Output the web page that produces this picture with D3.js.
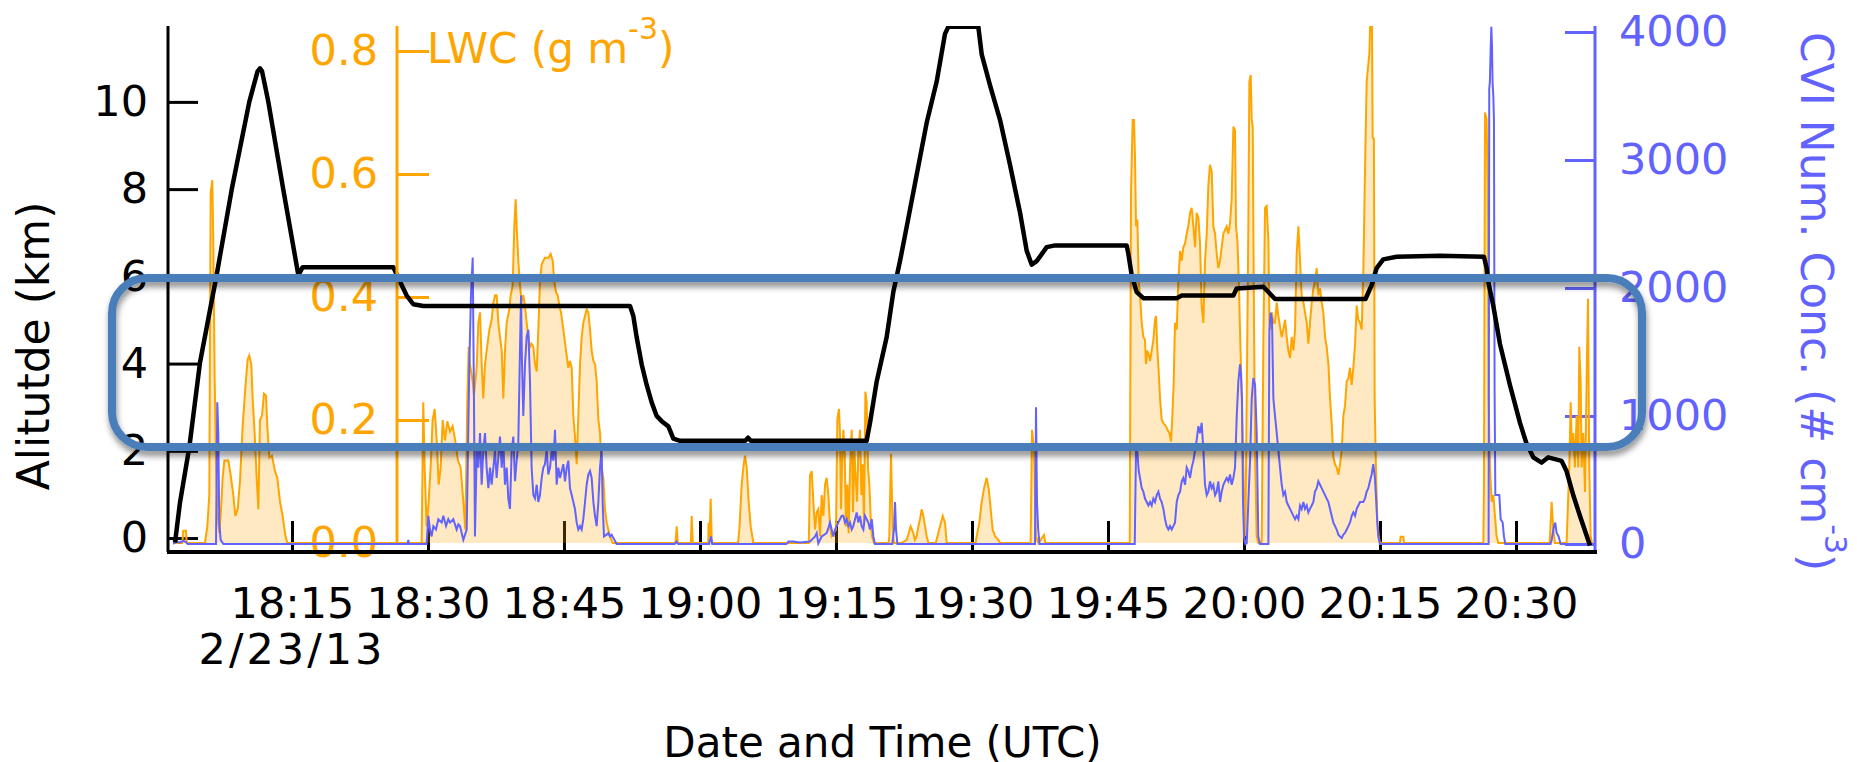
<!DOCTYPE html>
<html lang="en">
<head>
<meta charset="utf-8">
<title>Altitude, LWC and CVI number concentration</title>
<script src="https://cdn.jsdelivr.net/npm/d3@7"></script>
<style>
  body { margin: 0; background: #fff; }
  svg { display: block; font-family: "DejaVu Sans", sans-serif; }
</style>
</head>
<body>
<script>
// times are minutes after 18:00 UTC, 2/23/13

// aircraft altitude (km)
var altitude = [[2.1,-0.1],[2.65,0.82],[3.68,2.09],[4.85,4.02],[6.69,6.03],[8.35,7.99],[10.29,10.0],[11.2,10.7],[11.47,10.77],[11.7,10.7],[12.39,10.0],[14.04,7.99],[15.7,6.03],[16.18,6.21],[26.18,6.21],[26.91,5.88],[27.65,5.56],[28.38,5.36],[29.48,5.32],[52.28,5.32],[52.65,5.09],[53.01,4.61],[53.57,3.98],[54.12,3.51],[54.67,3.11],[55.22,2.80],[55.77,2.68],[56.51,2.56],[57.06,2.28],[57.8,2.23],[65.0,2.23],[65.3,2.30],[65.6,2.23],[78.38,2.23],[78.75,2.64],[79.49,3.59],[80.59,4.61],[81.32,5.64],[82.06,6.35],[82.8,7.14],[83.9,8.33],[85.0,9.52],[86.1,10.46],[87.02,11.56],[87.39,11.72],[90.7,11.72],[91.07,11.09],[91.99,10.38],[93.09,9.59],[94.19,8.56],[95.3,7.46],[96.03,6.59],[96.58,6.27],[97.13,6.35],[97.69,6.51],[98.24,6.67],[99.16,6.71],[107.06,6.71],[107.25,6.51],[107.61,6.03],[108.17,5.64],[108.9,5.50],[112.58,5.50],[113.13,5.56],[118.83,5.56],[119.19,5.72],[122.14,5.76],[122.69,5.64],[123.42,5.48],[133.4,5.48],[134.08,5.80],[134.63,6.19],[135.36,6.39],[136.83,6.45],[141.6,6.47],[146.47,6.45],[146.76,6.19],[146.94,5.88],[147.5,5.32],[148.23,4.45],[149.33,3.51],[150.44,2.64],[151.17,2.16],[151.91,1.85],[152.83,1.73],[153.56,1.85],[155.03,1.77],[155.58,1.53],[156.32,0.98],[157.05,0.51],[158.16,-0.17]];

// liquid water content (g m-3)
var lwc = [[1.9,0],[2.9,0],[3.0,0.02],[3.3,0.02],[3.4,0],[5.4,0],[5.66,0.027],[5.88,0.078],[6.03,0.57],[6.21,0.59],[6.32,0.487],[6.47,0.268],[6.62,0.134],[6.76,0.055],[6.98,0.016],[7.17,0.055],[7.35,0.106],[7.54,0.134],[7.98,0.134],[8.23,0.111],[8.53,0.078],[8.75,0.044],[9.01,0.055],[9.26,0.10],[9.56,0.19],[9.82,0.246],[10.11,0.299],[10.29,0.305],[10.51,0.29],[10.66,0.235],[10.88,0.179],[11.1,0.106],[11.29,0.055],[11.47,0.20],[11.69,0.207],[11.91,0.243],[12.13,0.24],[12.28,0.19],[12.5,0.139],[12.79,0.142],[13.12,0.117],[13.38,0.106],[13.68,0.067],[13.97,0.044],[14.26,0.013],[14.48,0],
[29.3,0],[29.48,0.229],[29.63,0.123],[29.85,0.027],[30.07,0.067],[30.29,0.123],[30.51,0.20],[30.74,0.218],[30.96,0.167],[31.18,0.095],[31.4,0.123],[31.62,0.20],[31.87,0.167],[32.13,0.198],[32.43,0.181],[32.72,0.19],[33.0,0.167],[33.3,0.134],[33.6,0.123],[33.9,0.067],[34.12,0.022],[34.34,0.235],[34.49,0.319],[34.63,0.291],[34.93,0.263],[35.07,0.24],[35.37,0.285],[35.55,0.358],[35.74,0.375],[35.92,0.291],[36.1,0.235],[36.29,0.291],[36.47,0.313],[36.77,0.347],[37.02,0.363],[37.21,0.391],[37.39,0.403],[37.57,0.403],[37.76,0.358],[37.94,0.335],[38.13,0.313],[38.31,0.235],[38.49,0.313],[38.68,0.358],[38.97,0.38],[39.12,0.403],[39.34,0.419],[39.52,0.515],[39.67,0.559],[39.78,0.515],[39.96,0.459],[40.15,0.419],[40.33,0.391],[40.51,0.403],[40.7,0.386],[40.88,0.358],[41.07,0.335],[41.25,0.319],[41.43,0.324],[41.62,0.319],[41.8,0.291],[41.99,0.279],[42.17,0.347],[42.35,0.425],[42.54,0.453],[42.72,0.459],[42.9,0.464],[43.27,0.464],[43.53,0.47],[43.75,0.459],[43.93,0.425],[44.12,0.408],[44.3,0.403],[44.49,0.386],[44.67,0.375],[44.93,0.347],[45.22,0.313],[45.48,0.285],[45.66,0.296],[45.85,0.285],[46.03,0.207],[46.21,0.173],[46.4,0.128],[46.58,0.207],[46.77,0.291],[46.95,0.335],[47.13,0.358],[47.32,0.369],[47.5,0.38],[47.68,0.375],[47.87,0.347],[48.05,0.313],[48.24,0.296],[48.42,0.291],[48.6,0.263],[48.79,0.201],[48.97,0.179],[49.15,0.123],[49.34,0.106],[49.52,0.055],[49.71,0.033],[50.07,0.011],[50.37,0],
[57.3,0],[57.43,0.027],[57.55,0],[59.0,0],[59.08,0.044],[59.2,0],[60.9,0],[60.95,0.033],[61.05,0.01],[61.18,0.072],[61.3,0],[64.2,0],[64.34,0.022],[64.6,0.095],[64.78,0.123],[64.96,0.142],[65.15,0.123],[65.37,0.067],[65.59,0.027],[65.88,0],
[72.0,0],[72.13,0.11],[72.32,0.117],[72.5,0.067],[72.69,0.022],[72.87,0.05],[73.05,0.055],[73.24,0.011],[73.42,0.078],[73.61,0.044],[73.79,0.095],[73.97,0.106],[74.16,0.078],[74.34,0.027],[74.52,0.011],[75.0,0.022],[75.15,0.201],[75.33,0.218],[75.44,0.179],[75.55,0.055],[75.66,0.123],[75.81,0.184],[75.96,0.145],[76.1,0.027],[76.25,0.095],[76.4,0.016],[76.55,0.123],[76.73,0.184],[76.88,0.05],[77.02,0.151],[77.17,0.106],[77.32,0.067],[77.47,0.151],[77.65,0.184],[77.8,0.078],[77.94,0.128],[78.09,0.033],[78.24,0.246],[78.38,0.229],[78.53,0.123],[78.68,0.095],[78.83,0.039],[78.97,0.011],[79.19,0],
[80.8,0],[80.88,0.011],[81.07,0.145],[81.25,0.022],[81.4,0],
[82.2,0],[82.8,0.005],[83.24,0.027],[83.53,0.016],[83.7,0.005],[83.9,0.011],[84.08,0.027],[84.27,0.039],[84.45,0.055],[84.63,0.044],[84.82,0.027],[85.0,0.011],[85.2,0],
[86.0,0],[86.47,0.027],[86.77,0.044],[87.02,0.033],[87.21,0],
[90.4,0],[90.52,0.011],[90.81,0.033],[91.07,0.067],[91.33,0.089],[91.62,0.106],[91.84,0.089],[92.06,0.055],[92.28,0.022],[92.54,0.011],[92.91,0.005],[93.09,0],
[96.47,0],[96.62,0.184],[96.84,0.151],[97.06,0.011],[97.32,0],[97.94,0.013],[98.09,0],
[107.4,0],[107.54,0.571],[107.72,0.688],[107.87,0.688],[107.98,0.627],[108.09,0.515],[108.24,0.526],[108.39,0.425],[108.53,0.403],[108.72,0.358],[108.9,0.335],[109.08,0.33],[109.19,0.291],[109.34,0.313],[109.49,0.307],[109.64,0.296],[109.82,0.313],[110.0,0.33],[110.19,0.363],[110.3,0.369],[110.45,0.313],[110.59,0.279],[110.74,0.235],[110.92,0.201],[111.11,0.195],[111.4,0.19],[111.55,0.184],[111.77,0.179],[111.95,0.165],[112.1,0.207],[112.25,0.263],[112.39,0.358],[112.58,0.347],[112.76,0.425],[112.95,0.475],[113.13,0.459],[113.31,0.481],[113.5,0.487],[113.68,0.503],[113.86,0.515],[114.05,0.537],[114.23,0.545],[114.42,0.515],[114.6,0.481],[114.78,0.537],[114.97,0.529],[115.15,0.487],[115.33,0.386],[115.52,0.358],[115.7,0.459],[115.89,0.503],[116.07,0.582],[116.25,0.615],[116.44,0.604],[116.62,0.515],[116.81,0.503],[116.99,0.47],[117.17,0.447],[117.36,0.459],[117.54,0.481],[117.72,0.503],[117.91,0.509],[118.09,0.515],[118.28,0.503],[118.46,0.52],[118.64,0.559],[118.83,0.677],[119.01,0.671],[119.12,0.515],[119.27,0.492],[119.42,0.431],[119.56,0.347],[119.75,0.235],[119.93,0.123],[120.04,0.033],[120.15,0.011],[120.3,0.235],[120.48,0.515],[120.59,0.75],[120.74,0.761],[120.85,0.688],[120.96,0.677],[121.11,0.347],[121.25,0.123],[121.4,0.011],[121.58,0],[121.95,0],[122.14,0.33],[122.32,0.545],[122.5,0.548],[122.69,0.492],[122.8,0.358],[122.94,0.347],[123.09,0.375],[123.24,0.358],[123.42,0.358],[123.61,0.391],[123.79,0.369],[123.97,0.352],[124.16,0.335],[124.34,0.347],[124.53,0.363],[124.71,0.335],[124.89,0.313],[125.08,0.301],[125.26,0.335],[125.45,0.313],[125.63,0.347],[125.81,0.47],[126.0,0.515],[126.18,0.459],[126.36,0.403],[126.55,0.391],[126.73,0.375],[126.92,0.358],[127.1,0.324],[127.28,0.358],[127.47,0.391],[127.65,0.414],[127.83,0.425],[128.02,0.447],[128.2,0.403],[128.39,0.414],[128.57,0.391],[128.75,0.375],[128.94,0.335],[129.12,0.319],[129.31,0.291],[129.49,0.235],[129.67,0.195],[129.86,0.139],[130.04,0.128],[130.22,0.123],[130.41,0.111],[130.59,0.128],[130.78,0.151],[130.96,0.207],[131.14,0.223],[131.33,0.263],[131.51,0.268],[131.69,0.285],[131.88,0.257],[132.06,0.285],[132.25,0.324],[132.43,0.386],[132.61,0.363],[132.8,0.358],[132.98,0.347],[133.17,0.447],[133.35,0.61],[133.53,0.75],[133.82,0.795],[133.93,0.85],[134.11,0.85],[134.19,0.66],[134.33,0.657],[134.41,0.235],[134.55,0.123],[134.7,0.039],[134.85,0.011],[134.99,0],
[137.2,0],[137.27,0.01],[137.57,0.01],[137.65,0],
[146.4,0],[146.47,0.1],[146.58,0.70],[146.76,0.689],[146.87,0.582],[146.98,0.235],[147.13,0.123],[147.31,0.067],[147.5,0.078],[147.68,0.044],[147.86,0.011],[148.05,0],
[153.7,0],[153.75,0.011],[153.93,0.067],[154.11,0.022],[154.3,0],
[155.58,0],[155.88,0.123],[156.03,0.229],[156.17,0.151],[156.32,0.179],[156.5,0.123],[156.69,0.207],[156.87,0.123],[156.98,0.319],[157.13,0.263],[157.24,0.123],[157.42,0.179],[157.61,0.083],[157.79,0.268],[157.94,0.397],[158.08,0.123],[158.23,0.011],[158.38,0]];

// CVI number concentration (# cm-3)
var cvi = [[1.9,0],[2.3,20],[2.6,10],[3.0,25],[3.3,15],[3.5,0],[6.62,0],[6.76,1108],[6.87,866],[6.98,167],[7.13,32],[7.43,0],[27.75,0],[27.83,32],[27.9,0],
[29.85,0],[30.04,220],[30.22,113],[30.4,59],[30.59,140],[30.88,113],[31.14,194],[31.51,167],[31.69,220],[31.99,140],[32.24,194],[32.43,167],[32.79,194],[33.16,113],[33.35,153],[33.53,140],[33.9,32],[34.27,113],[34.56,1404],[34.74,1942],[34.93,2238],[35.07,1135],[35.18,59],[35.37,732],[35.55,597],[35.74,866],[35.92,463],[36.1,732],[36.29,866],[36.47,597],[36.66,436],[36.84,597],[37.02,463],[37.21,597],[37.39,732],[37.57,516],[37.76,678],[37.94,839],[38.13,597],[38.31,785],[38.49,463],[38.68,597],[38.86,355],[39.04,274],[39.23,732],[39.41,839],[39.6,490],[39.78,651],[39.96,785],[40.15,1539],[40.26,1942],[40.37,1404],[40.51,1001],[40.7,1404],[40.88,1619],[41.07,1673],[41.25,1270],[41.43,597],[41.62,382],[41.8,355],[41.99,463],[42.17,328],[42.35,382],[42.54,516],[42.72,597],[42.9,624],[43.09,732],[43.27,543],[43.46,597],[43.64,732],[43.83,651],[44.01,893],[44.19,463],[44.38,597],[44.56,516],[44.74,570],[44.93,624],[45.11,490],[45.3,597],[45.48,651],[45.66,436],[45.85,382],[46.03,328],[46.21,274],[46.4,167],[46.58,113],[46.77,140],[46.95,113],[47.13,194],[47.32,328],[47.5,463],[47.68,543],[47.87,570],[48.05,516],[48.24,328],[48.42,220],[48.6,140],[48.79,328],[48.97,597],[49.15,732],[49.26,328],[49.41,59],[49.71,73],[49.89,86],[50.07,59],[50.26,73],[50.44,46],[50.81,0],
[57.2,0],[57.4,19],[57.6,0],[61.0,0],[61.2,59],[61.35,0],
[69.5,0],[69.63,5],[69.74,19],[70.3,19],[71.03,11],[72.13,19],[72.69,59],[72.87,86],[73.05,5],[73.42,59],[73.97,86],[74.16,126],[74.34,167],[74.52,113],[74.71,59],[74.89,113],[75.08,140],[75.44,194],[75.63,220],[75.81,220],[75.99,167],[76.18,194],[76.36,140],[76.55,167],[76.73,113],[76.91,140],[77.1,194],[77.28,247],[77.47,167],[77.65,220],[77.83,140],[78.02,113],[78.2,220],[78.38,194],[78.57,167],[78.75,113],[78.94,194],[79.12,59],[79.3,0],
[81.2,0],[81.4,113],[81.51,328],[81.62,113],[81.77,0],
[96.95,0],[97.06,1068],[97.17,328],[97.3,113],[97.45,0],
[107.95,0],[108.09,732],[108.24,718],[108.39,570],[108.53,516],[108.72,436],[108.9,409],[109.08,355],[109.27,328],[109.45,301],[109.64,328],[109.82,301],[110.0,355],[110.19,328],[110.37,382],[110.56,409],[110.74,355],[110.92,328],[111.11,274],[111.29,194],[111.47,140],[111.66,113],[111.84,140],[112.03,113],[112.21,140],[112.39,167],[112.58,328],[112.76,382],[112.95,409],[113.13,490],[113.31,516],[113.5,463],[113.68,597],[113.86,570],[114.05,516],[114.23,597],[114.42,651],[114.6,732],[114.78,812],[114.97,920],[115.15,866],[115.33,947],[115.52,732],[115.7,463],[115.89,382],[116.07,409],[116.25,490],[116.44,436],[116.62,463],[116.81,382],[116.99,409],[117.17,490],[117.36,328],[117.54,409],[117.72,463],[117.91,490],[118.09,516],[118.28,490],[118.46,543],[118.64,463],[118.83,516],[119.01,597],[119.2,1001],[119.38,1270],[119.56,1404],[119.67,1323],[119.78,1135],[119.89,328],[120.0,59],[120.15,0],[120.3,5],[120.48,328],[120.67,651],[120.85,1135],[121.03,1297],[121.22,1243],[121.4,866],[121.58,59],[121.77,0],[122.69,0],[122.8,1673],[122.94,1808],[123.09,1754],[123.24,1135],[123.42,1001],[123.61,866],[123.79,732],[123.97,597],[124.16,463],[124.34,382],[124.53,409],[124.71,328],[124.89,301],[125.08,274],[125.26,247],[125.45,220],[125.63,194],[125.81,220],[126.0,194],[126.18,301],[126.36,274],[126.55,328],[126.73,274],[126.92,301],[127.1,247],[127.28,274],[127.47,301],[127.65,328],[127.83,409],[128.02,436],[128.2,490],[128.39,463],[128.57,436],[128.75,409],[128.94,382],[129.12,355],[129.31,328],[129.49,274],[129.67,220],[129.86,167],[130.04,140],[130.22,113],[130.41,73],[130.59,59],[130.78,46],[130.96,73],[131.14,86],[131.33,113],[131.51,140],[131.69,167],[131.88,220],[132.06,247],[132.25,220],[132.43,274],[132.61,301],[132.8,328],[133.16,328],[133.34,355],[133.53,409],[133.71,436],[133.89,490],[134.08,543],[134.26,624],[134.44,516],[134.55,382],[134.7,167],[134.81,59],[134.99,0],
[146.98,0],[147.05,3556],[147.12,3610],[147.2,3852],[147.28,4040],[147.35,3900],[147.42,3600],[147.5,3500],[147.57,3300],[147.64,1200],[147.72,382],[147.94,382],[148.16,382],[148.31,194],[148.53,167],[148.67,59],[148.82,0],
[153.8,0],[153.93,32],[154.19,140],[154.33,167],[154.48,86],[154.7,59],[154.92,0],[158.5,0]];

var altTicks = [0, 2, 4, 6, 8, 10];
var lwcTicks = [0, 0.2, 0.4, 0.6, 0.8];
var cviTicks = [0, 1000, 2000, 3000, 4000];
var timeTicks = [15, 30, 45, 60, 75, 90, 105, 120, 135, 150];
var dateLabel = "2/23/13";

var w = 1857, h = 762;
var plotL = 168, plotR = 1597, plotT = 26, plotB = 552;
var orangeX = 397, blueX = 1595;

var orange = "#ffa500", blue = "#6262ff";

var base = Date.UTC(2013, 1, 23, 18, 0, 0);
function toDate(m) { return new Date(base + m * 60000); }

var xScale = d3.scaleUtc().domain([toDate(1.324), toDate(158.934)]).range([plotL, plotR]);
var yAlt = d3.scaleLinear().domain([-0.32, 11.74]).range([plotB, plotT]);
var yLwc = d3.scaleLinear().domain([-0.0146, 0.8407]).range([plotB, plotT]);
var yCvi = d3.scaleLinear().domain([-62.5, 4047]).range([plotB, plotT]);

var svg = d3.select("body").append("svg")
  .attr("width", w)
  .attr("height", h);

var defs = svg.append("defs");
defs.append("clipPath").attr("id", "plot")
  .append("rect")
  .attr("x", plotL).attr("y", plotT)
  .attr("width", plotR - plotL).attr("height", plotB - plotT);

var f = defs.append("filter").attr("id", "shadow")
  .attr("x", "-5%").attr("y", "-20%").attr("width", "110%").attr("height", "150%");
f.append("feDropShadow")
  .attr("dx", 1).attr("dy", 5).attr("stdDeviation", 3)
  .attr("flood-color", "#000").attr("flood-opacity", 0.45);

//Axis labels drawn first so the data and axis lines sit over them
var fs = 43;

//Altitude axis
var altAxis = svg.append("g")
  .attr("transform", "translate(" + plotL + ",0)")
  .call(d3.axisLeft(yAlt).tickValues(altTicks).tickSize(-30).tickSizeOuter(0).tickPadding(20));

//LWC axis
var lwcAxis = svg.append("g")
  .attr("transform", "translate(" + orangeX + ",0)")
  .call(d3.axisLeft(yLwc).tickValues(lwcTicks).tickFormat(d3.format(".1f"))
    .tickSize(-32).tickSizeOuter(0).tickPadding(19));

//CVI axis
var cviAxis = svg.append("g")
  .attr("transform", "translate(" + blueX + ",0)")
  .call(d3.axisRight(yCvi).tickValues(cviTicks).tickFormat(d3.format("d"))
    .tickSize(-30).tickSizeOuter(0).tickPadding(24));

//Time axis
var timeAxis = svg.append("g")
  .attr("transform", "translate(0," + plotB + ")")
  .call(d3.axisBottom(xScale).tickValues(timeTicks.map(toDate))
    .tickFormat(d3.utcFormat("%H:%M")).tickSize(-31).tickSizeOuter(0).tickPadding(35));

[altAxis, lwcAxis, cviAxis, timeAxis].forEach(function(g) {
  g.selectAll("text").attr("font-size", fs).attr("font-family", "DejaVu Sans, sans-serif");
  g.select(".domain").remove();
});

altAxis.selectAll("text").attr("fill", "#000");
lwcAxis.selectAll("text").attr("fill", orange);
cviAxis.selectAll("text").attr("fill", blue);
timeAxis.selectAll("text").attr("fill", "#000");

altAxis.selectAll(".tick line").attr("stroke", "#000").attr("stroke-width", 3);
lwcAxis.selectAll(".tick line").attr("stroke", orange).attr("stroke-width", 3);
cviAxis.selectAll(".tick line").attr("stroke", blue).attr("stroke-width", 3);
timeAxis.selectAll(".tick line").attr("stroke", "#000").attr("stroke-width", 3);

//Date under the first time tick
svg.append("text")
  .attr("x", xScale(toDate(timeTicks[0])))
  .attr("y", 664)
  .attr("text-anchor", "middle")
  .attr("font-size", fs)
  .attr("letter-spacing", 3)
  .text(dateLabel);

//Data
var plot = svg.append("g").attr("clip-path", "url(#plot)");

var area = d3.area()
  .x(function(d) { return xScale(toDate(d[0])); })
  .y0(yLwc(0))
  .y1(function(d) { return yLwc(d[1]); });

plot.append("path")
  .datum(lwc)
  .attr("fill", "rgba(255,165,0,0.24)")
  .attr("d", area);

plot.append("path")
  .datum(lwc)
  .attr("fill", "none")
  .attr("stroke", orange)
  .attr("stroke-width", 2)
  .attr("d", d3.line()
    .x(function(d) { return xScale(toDate(d[0])); })
    .y(function(d) { return yLwc(d[1]); }));

plot.append("path")
  .datum(cvi)
  .attr("fill", "none")
  .attr("stroke", blue)
  .attr("stroke-width", 2)
  .attr("d", d3.line()
    .x(function(d) { return xScale(toDate(d[0])); })
    .y(function(d) { return yCvi(d[1]); }));

plot.append("path")
  .datum(altitude)
  .attr("fill", "none")
  .attr("stroke", "#000")
  .attr("stroke-width", 4.5)
  .attr("stroke-linejoin", "round")
  .attr("d", d3.line()
    .x(function(d) { return xScale(toDate(d[0])); })
    .y(function(d) { return yAlt(d[1]); }));

//Axis lines
svg.append("line").attr("x1", plotL).attr("x2", plotL).attr("y1", plotT).attr("y2", plotB)
  .attr("stroke", "#000").attr("stroke-width", 3);
svg.append("line").attr("x1", orangeX).attr("x2", orangeX).attr("y1", plotT).attr("y2", yLwc(0))
  .attr("stroke", orange).attr("stroke-width", 3);
svg.append("line").attr("x1", blueX).attr("x2", blueX).attr("y1", plotT).attr("y2", plotB)
  .attr("stroke", blue).attr("stroke-width", 3);
svg.append("line").attr("x1", plotL - 1).attr("x2", plotR).attr("y1", plotB).attr("y2", plotB)
  .attr("stroke", "#000").attr("stroke-width", 4);

//Axis titles
svg.append("text")
  .attr("transform", "translate(49,346) rotate(-90)")
  .attr("text-anchor", "middle")
  .attr("font-size", 44)
  .text("Alitutde (km)");

var lwcTitle = svg.append("text")
  .attr("x", 427).attr("y", 63)
  .attr("font-size", 42)
  .attr("fill", orange);
lwcTitle.append("tspan").text("LWC (g m");
lwcTitle.append("tspan").attr("font-size", 30).attr("dy", -24).text("-3");
lwcTitle.append("tspan").attr("dy", 24).text(")");

var cviTitle = svg.append("text")
  .attr("transform", "translate(1801,32) rotate(90)")
  .attr("font-size", 44)
  .attr("fill", blue);
cviTitle.append("tspan").text("CVI Num. Conc. (# cm");
cviTitle.append("tspan").attr("font-size", 30).attr("dy", -24).text("-3");
cviTitle.append("tspan").attr("dy", 24).text(")");

svg.append("text")
  .attr("x", (plotL + plotR) / 2)
  .attr("y", 757)
  .attr("text-anchor", "middle")
  .attr("font-size", 42)
  .text("Date and Time (UTC)");

//Highlight box
svg.append("rect")
  .attr("x", 112).attr("y", 278)
  .attr("width", 1642 - 112).attr("height", 447 - 278)
  .attr("rx", 35).attr("ry", 35)
  .attr("fill", "none")
  .attr("stroke", "#4a7ebb")
  .attr("stroke-width", 8)
  .attr("filter", "url(#shadow)");
</script>
</body>
</html>
